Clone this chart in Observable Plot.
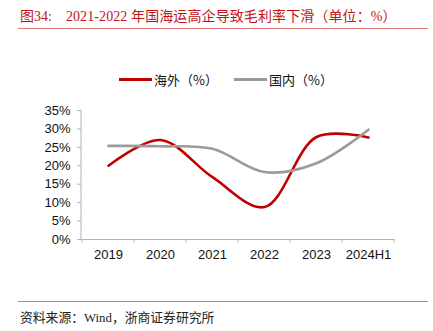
<!DOCTYPE html>
<html><head><meta charset="utf-8">
<script src="https://cdn.jsdelivr.net/npm/d3@7"></script>
<script src="https://cdn.jsdelivr.net/npm/@observablehq/plot@0.6"></script>
<style>
body{margin:0;background:#fff;}
#wrap{position:relative;width:433px;height:331px;overflow:hidden;font-family:"Liberation Sans",Arial,sans-serif;}
#title{position:absolute;left:20px;top:5px;font-family:"Liberation Serif","Noto Sans CJK SC",serif;font-size:14px;color:#c0141b;white-space:nowrap;}
#title .rest{margin-left:14px;letter-spacing:0.1px;}
.hr{position:absolute;left:18px;width:410px;height:0;border-top:1.5px solid #e27575;}
#legend{position:absolute;top:70px;left:0;width:433px;font-family:"Noto Sans CJK SC",sans-serif;font-size:13px;color:#111;}
.li{position:absolute;top:0;display:flex;align-items:center;height:18px;}
.sw{display:inline-block;width:33px;height:0;border-top:3px solid;margin-right:2px;}
#chart{position:absolute;left:0;top:90px;}
#src{position:absolute;left:20px;top:307px;font-family:"Liberation Serif","Noto Sans CJK SC",serif;font-size:12.8px;color:#222;white-space:nowrap;}
</style></head>
<body>
<div id="wrap">
  <div id="title">图34:<span class="rest">2021-2022 年国海运高企导致毛利率下滑（单位：%）</span></div>
  <div class="hr" style="top:28px"></div>
  <div id="legend"></div>
  <div id="chart"></div>
  <div class="hr" style="top:301px"></div>
  <div id="src">资料来源：Wind，浙商证券研究所</div>
</div>
<script>
const years = ["2019","2020","2021","2022","2023","2024H1"];
const overseas = [20.0, 27.0, 16.9, 8.8, 27.8, 27.7];
const domestic = [25.4, 25.3, 24.6, 18.3, 20.7, 29.8];
const yTicks = [0,5,10,15,20,25,30,35];
const seriesNames = ["海外（%）","国内（%）"];
const seriesColors = ["#c00000","#9b9b9b"];

const data = [];
years.forEach((y,i)=>{
  data.push({year:y, value:overseas[i], series:seriesNames[0]});
  data.push({year:y, value:domestic[i], series:seriesNames[1]});
});

// legend
const legend = document.getElementById("legend");
const lx = [119, 234];
seriesNames.forEach((n,i)=>{
  const d = document.createElement("div");
  d.className="li"; d.style.left = lx[i]+"px";
  d.innerHTML = `<span class="sw" style="border-color:${seriesColors[i]}"></span><span>${n}</span>`;
  legend.appendChild(d);
});

const axisColor = "#b3b3b3";
const frameLines = (index, scales, values, dims) => {
  const g = d3.create("svg:g").attr("stroke", axisColor).attr("stroke-width", 1);
  const x = scales.x, step = x.step ? x.step() : (x.bandwidth ? x.bandwidth() : 0);
  const left = dims.marginLeft, bottom = dims.height - dims.marginBottom, top = dims.marginTop;
  g.append("line").attr("x1", left).attr("x2", left).attr("y1", top).attr("y2", bottom);
  const bounds = years.map(y => scales.x(y) - step/2).concat([scales.x(years[years.length-1]) + step/2]);
  bounds.forEach(b => g.append("line").attr("x1", b).attr("x2", b).attr("y1", bottom).attr("y2", bottom+4));
  return g.node();
};

const chart = Plot.plot({
  width: 433, height: 180,
  marginLeft: 81, marginRight: 38, marginTop: 20, marginBottom: 31,
  style: {fontFamily: '"Liberation Sans", Arial, sans-serif', fontSize: "13px", color: "#111", background: "transparent"},
  x: {type: "point", domain: years, padding: 0.5, label: null},
  y: {domain: [0, 35], label: null},
  color: {domain: seriesNames, range: seriesColors},
  marks: [
    Plot.ruleY([0], {stroke: axisColor, strokeWidth: 1}),
    frameLines,
    Plot.axisY({ticks: yTicks, tickFormat: d => d + "%", tickSize: 4, tickPadding: 7, stroke: axisColor, label: null, fontSize: 13}),
    Plot.axisX({tickSize: 0, tickPadding: 10, label: null, fontSize: 13}),
    Plot.line(data, {x: "year", y: "value", z: "series", stroke: "series", strokeWidth: 2.6, curve: "catmull-rom"})
  ]
});
document.getElementById("chart").appendChild(chart);
</script>
</body></html>
